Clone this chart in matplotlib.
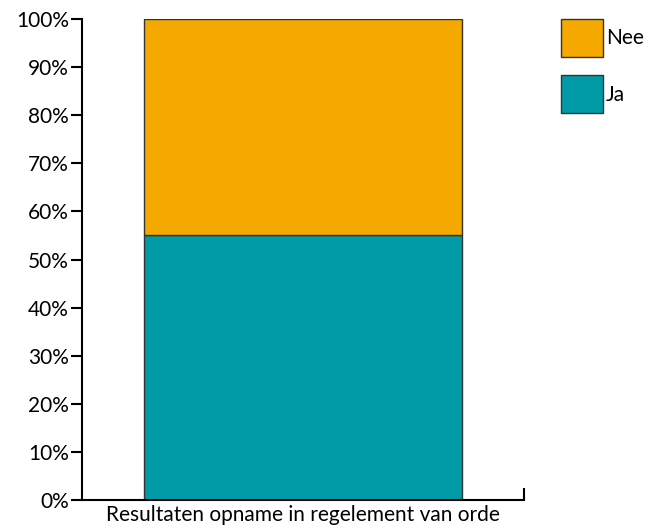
import matplotlib
matplotlib.use('Agg')
import matplotlib.pyplot as plt
from matplotlib.patches import Patch
from matplotlib.ticker import PercentFormatter

# data
category = 'Resultaten opname in regelement van orde'
series = ['Ja', 'Nee']
values = [55, 45]
colors = ['#009ba6', '#f5a800']

plt.rcParams['font.family'] = ['Lato', 'DejaVu Sans']

fig = plt.figure(figsize=(6.52, 5.31), dpi=100)
ax = fig.add_axes([82/652, 31/531, 442/652, 481/531])

bottom = 0
for name, v, c in zip(series, values, colors):
    ax.bar(0.5, v, width=0.72, bottom=bottom, color=c,
           edgecolor='#333333', linewidth=1.0, label=name)
    bottom += v

ax.set_xlim(0, 1)
ax.set_ylim(0, 100)
ax.set_yticks(range(0, 101, 10))
ax.yaxis.set_major_formatter(PercentFormatter(decimals=0))
ax.tick_params(axis='y', direction='out', length=8, width=1.5,
               labelsize=15, pad=1.5)
ax.set_xticks([1])
ax.set_xticklabels([''])
ax.tick_params(axis='x', direction='in', length=9, width=1.5)
ax.set_xlabel(category, fontsize=15, labelpad=0)
ax.spines['top'].set_visible(False)
ax.spines['right'].set_visible(False)
ax.spines['left'].set_linewidth(1.5)
ax.spines['bottom'].set_linewidth(1.5)

handles = [Patch(facecolor=c, edgecolor='#333333', label=n)
           for n, c in zip(series[::-1], colors[::-1])]
fig.legend(handles=handles, loc='upper left',
           bbox_to_anchor=(561/652, 1 - 19/531), frameon=False,
           fontsize=15, handlelength=2.0, handleheight=2.4,
           handletextpad=0.15, labelspacing=0.9, borderaxespad=0,
           borderpad=0)

fig.savefig('out.png', dpi=100)
